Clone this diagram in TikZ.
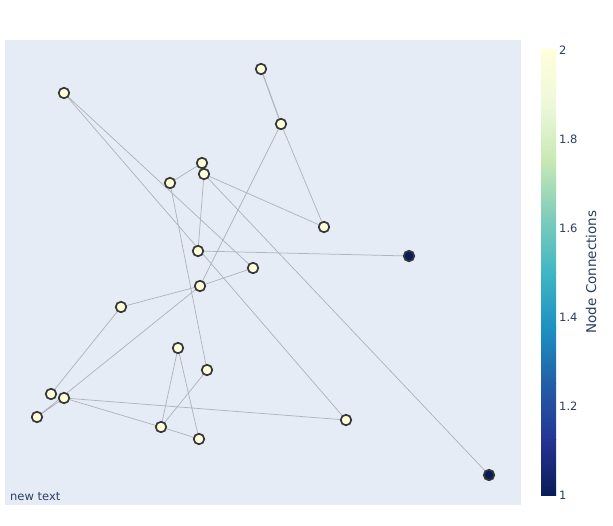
\documentclass[tikz,border=0pt]{standalone}
\usepackage{fontspec}
\setmainfont{DejaVu Sans}
\begin{document}
\begin{tikzpicture}[x=1pt,y=-1pt,
  nd/.style={circle,draw=ndborder,line width=1.7pt,fill=ndlight,minimum size=10.5pt,inner sep=0pt},
  ndd/.style={nd,fill=nddark},
  ed/.style={draw=edgecol,line width=0.75pt},
  lbl/.style={font=\fontsize{11.5}{13}\selectfont,text=txtcol}]
\definecolor{bgcol}{RGB}{229,236,246}
\definecolor{edgecol}{RGB}{178,180,188}
\definecolor{ndborder}{RGB}{55,55,55}
\definecolor{ndlight}{RGB}{255,255,217}
\definecolor{nddark}{RGB}{8,29,88}
\definecolor{txtcol}{RGB}{42,63,95}
\definecolor{c0}{RGB}{8,29,88}
\definecolor{c1}{RGB}{37,52,148}
\definecolor{c2}{RGB}{34,94,168}
\definecolor{c3}{RGB}{29,145,192}
\definecolor{c4}{RGB}{65,182,196}
\definecolor{c5}{RGB}{127,205,187}
\definecolor{c6}{RGB}{199,233,180}
\definecolor{c7}{RGB}{237,248,217}
\definecolor{c8}{RGB}{255,255,217}
\useasboundingbox (0,0) rectangle (613,525);
\fill[white] (0,0) rectangle (613,525);
\fill[bgcol] (5,40) rectangle (521,505);
% node positions
\coordinate (A) at (64,93);
\coordinate (B) at (261,69);
\coordinate (C) at (281,124);
\coordinate (D) at (202,163);
\coordinate (E) at (204,174);
\coordinate (F) at (170,183);
\coordinate (G) at (324,227);
\coordinate (H) at (409,256);
\coordinate (I) at (198,251);
\coordinate (J) at (253,268);
\coordinate (K) at (200,286);
\coordinate (L) at (121,307);
\coordinate (M) at (178,348);
\coordinate (N) at (207,370);
\coordinate (O) at (51,394);
\coordinate (P) at (64,398);
\coordinate (Q) at (37,417);
\coordinate (R) at (161,427);
\coordinate (S) at (199,439);
\coordinate (T) at (346,420);
\coordinate (U) at (489,475);
% edges
\path[ed] (A) -- (J) (A) -- (T)
  (C) -- (G) (C) -- (K)
  (D) -- (F) (E) -- (I) (E) -- (G)
  (E) -- (U) (F) -- (N) (I) -- (H)
  (K) -- (J) (K) -- (L) (L) -- (O)
  (K) -- (Q) (P) -- (Q) (P) -- (T)
  (P) -- (R) (M) -- (R) (M) -- (S)
  (N) -- (R) (R) -- (S);
\path[ed,line width=1.2pt] (B) -- (C);
% nodes on top
\foreach \n in {A,B,C,F,G,I,J,K,L,M,N,O,Q,R,S,T,D,E,P}{\node[nd] (n\n) at (\n) {};}
\node[ndd] (nH) at (H) {};
\node[ndd] (nU) at (U) {};
% label
\node[lbl,anchor=base west,inner sep=0pt] (nt) at (10,500) {new text};
% colorbar
\foreach \i/\a/\b in {0/c0/c1,1/c1/c2,2/c2/c3,3/c3/c4,4/c4/c5,5/c5/c6,6/c6/c7,7/c7/c8}{
  \shade[bottom color=\a,top color=\b] (541,{495-\i*55.625}) rectangle (556,{495-(\i+1)*55.625-0.3});
}
\foreach \v/\t in {0/1,1/1.2,2/1.4,3/1.6,4/1.8,5/2}{
  \node[lbl,anchor=west,inner sep=0pt] at (559,{495-\v*89}) {\t};
}
\node[font=\fontsize{13.5}{15}\selectfont,text=txtcol,rotate=90] (ttl) at (591,272) {Node Connections};
\end{tikzpicture}
\end{document}
